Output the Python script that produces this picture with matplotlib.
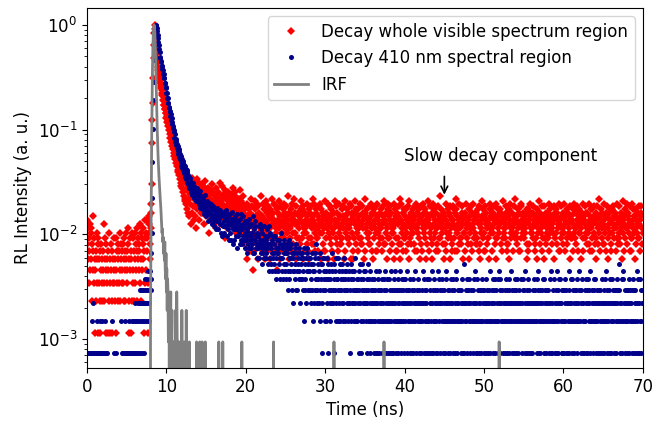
import numpy as np
import matplotlib
matplotlib.use('Agg')
import matplotlib.pyplot as plt

# channel width of the decay histograms (ns); strings hold counts per channel,
# one character per channel in base 62, groups of 10 channels = 0.5 ns
BIN = 0.05
DIGITS = '0123456789abcdefghijklmnopqrstuvwxyzABCDEFGHIJKLMNOPQRSTUVWXYZ'

# whole visible spectrum: 0 - 7.95 ns
red_pre = """
c7a5683b49 5a2746d385 4162593718 3516247352 64b3285471 5316429315 4726153843 2548163527
6349257364 3752846295 4637a25184 6152948362 5937462a58 4763b52984 7a5168c394 8c613bd957
"""
# whole visible spectrum: 8.00 - 12.95 ns (counts)
red_peak = [10, 14, 17, 26, 65, 108, 156, 270, 416, 555,
            720, 867, 800, 700, 610, 530, 470, 420, 380, 345,
            320, 300, 282, 266, 252, 240, 228, 216, 206, 196,
            186, 180, 166, 163, 150, 149, 136, 137, 124, 126,
            112, 117, 102, 108, 94, 100, 86, 93, 78, 86,
            72, 80, 66, 74, 61, 69, 57, 64, 52, 60,
            49, 56, 45, 53, 42, 50, 39, 47, 36, 45,
            34, 43, 32, 41, 29, 39, 27, 37, 25, 35,
            24, 33, 22, 31, 20, 30, 19, 28, 18, 27,
            17, 26, 15, 24, 14, 23, 19, 22, 13, 21]
# whole visible spectrum: 13.0 - 69.95 ns
red_tail = """
hpbkuemgsc jdqgnatfli gmcrhkeoiq ekhpbnfjsg ldigofk9mh fjcnhqelgb iegkaohmdj
cmfirdgkbp hbjelgc8nf dkgaiemcjh fchlbjdoge ibkfmd9hec gaejcnfbid c9hekbgdaf
7dh5ba9fc6 e8jb6cg49d a6f8idb7ch 5gc9ea7kb8 d9b6hf8ac5
b7ie9c6gd8 f5a8dbj7ec 8hc6bga9f4 ce7ia5db8g 9b6fdc8hae
6gbd9k7ca5 ea8c6fhb9d 7cj9be5gb8 b6ea8dc7if d8f5gb9ae6
a9c7hd6bf8 5ebg8ca7jd c7h9b6efa8 8da6gc9bh5 fb9c7ead6i
6ce8ba5hd9 b8gd7fc6ae 9a5eic8bg7 ec6b9hd7a8 7fb8dag5ci
d6a9cf8eb7 a8hb5gc9e6 5dc8bie7fa c9f6ad8hb7 8b7gcea5dj
e6ad9bf8c7 9cgb7hd6ea b5e8fac9g6 6hd9cb7ae8 fa8b6gdc7i
c7eb9a5fh8 8dg6cbe9a7 a9c5hfb8d6 e6b8dg7cj5 7ch9abe6f8
d8a6fc9bg7 b5id8ea7c9 9fb7cgd6ah 6ea9bc8fd5 gc7d6ahb9e
a8f5ecb7id c6bg9d8ae7 5hd8bfc9a6 ea7c6gb8dk 8bf9dac7e5
d7a6hcb9f8 b9e5gda8c6 7cgb8fe6aj f6d9abc7h8 a8c7eg5bd9
9ed6bha8c7 c5fb9dg7ae 6bha8ce9d7 e8c7fdb6g5 b7a9dic8f6
d9g6bec7a8 8cb5hfa9de a6e9cbg7d8 5hc8dafb9e fb7e6cd8ia
c9a8gbe6d7 7dfb5hc9a8 ea6c9bg8dj 9c8d7fae6b b6hg8cad9e
d8b9aec7f5 6fc7bhd9ae a9e8gcb6d7 8bd5fca9ei ce7a9bg6d8
5gbd8ec7a9 e8c6hbf9da b7a9dc5ge8 9dfe7bca6h c6b8gad9e7
a9hc6bed8f 7eb9dag5c8 dc8f6bh9ae 8a7ecgb6d9 fb9a5dce8h
6dcg8be9a7 e9b7ahc6df a6f8cbd9g7 c8e5bga7dj 9bd6fca8e7
b7hc9ade6g d5a8ebc9f6 7cf9bgd8ae ea6db8h7c9 8gc7eab5di
c9b6fd8aeh a7ed9cb6g8 6bh8acf9d5 dfa7c9be8g b8c6dge7a9
"""

# 410 nm region: 0 - 7.95 ns
blue_pre = """
1011010110 1102130101 0110210110 1021101201 1100120101 1000000000 0000200100 0010000000
0000020100 1101100211 0110120111 1012110201 2131202130 2314132413 3242153423 4352634265
"""
# 410 nm region: 8.00 - 12.95 ns (counts)
blue_peak = [5, 4, 9, 14, 30, 66, 135, 260, 380, 620,
             850, 1060, 1220, 1310, 1346, 1320, 1250, 1175, 1085, 1015,
             925, 868, 785, 738, 668, 650, 608, 595, 551, 540,
             505, 498, 462, 455, 421, 415, 378, 372, 340, 333,
             304, 300, 270, 268, 243, 240, 216, 219, 200, 204,
             183, 188, 168, 172, 152, 160, 141, 146, 128, 133,
             113, 121, 102, 110, 96, 104, 89, 98, 84, 93,
             79, 88, 74, 84, 70, 79, 66, 75, 61, 71,
             58, 68, 55, 64, 52, 62, 49, 60, 47, 57,
             45, 55, 43, 53, 41, 50, 39, 48, 37, 46]
# 410 nm region: 13.0 - 69.95 ns
blue_tail = """
EAHyFwCzGu AtCxzsByvA wqxtzorvpu rnusqlpwmr oksnqimrlp mjqlohnkpi kgnjmfliok
ifljnhkeml hdkgmiejgn gkdihlfcjh elhcjgmfbi gcjfkdhalf dieghbjfcl fbhdkcgeia
ci9fdhbjea gcdaheb9kc 9fcigadbe8 dagb8hc9fb a7ec9gb8da 9c8fa7db6g b8ea79c6d8
7b9d68a5c9 a69c7b58e8 6a8b57c96a 9579b4a68c 5a687b4963 869a57b469 4785a69358
7958462a74 58396a4768 6485739462 7369485b53 4758362947 5371846582
4625381574 6352749364 3517462835 5284637425 4736253846 2546374253 6314527364
3526438245 4253614732 5147325463 3624153742 2516342534 4231524631 1352416243
3425132514 2613425312 5234162431 3142536214 2435124362 4213542315
3250413624 2431523140 5123432613 3402531423 1324263051 4231342512 2503142361
3142523413 2416302534 1335241023 4213562314 2340213524 3152403216 5231342402
2413251337 1302423514 4325130242 2143522361 3521403124 2314252431 4023135423
1342621304 3251342152 2403125364 5132402213 3214352410 2351423632 4123041325
1432513204 3205231452 2413602134 5231423120 3142350243 2325143612 4132203425
1253421304 3420135216 2314252031 4213641235 3502314124 2143520413 1324163252
3512403124 2431252306 4023143512 3214025341 1352431620 2403215342 5231423104
3142302513 2413526231 4302143152 1253420314 3124352407 2431203516 5203142324
3142513402 2314052143 4213623150 1352412304
"""

# instrument response function: channels with non-zero counts
irf_time = [8.00, 8.05, 8.10, 8.15, 8.20, 8.25, 8.30, 8.35, 8.40, 8.45,
            8.50, 8.55, 8.60, 8.65, 8.70, 8.75, 8.80, 8.85, 8.90, 8.95,
            9.00, 9.05, 9.10, 9.15, 9.20, 9.25, 9.30, 9.35, 9.40, 9.45,
            9.50, 9.55, 9.60, 9.65, 9.70, 9.75, 9.80, 9.85, 9.90, 9.95,
            10.00, 10.05, 10.10, 10.15, 10.20, 10.25, 10.30, 10.35,
            10.45, 10.50, 10.55, 10.65, 10.70, 10.80, 10.95, 11.15, 11.30, 11.35,
            11.50, 11.70, 11.95, 12.25, 12.50, 12.90,
            13.80, 14.20, 14.50, 14.90, 16.60, 17.10, 19.50, 23.50, 31.10, 37.40, 51.90]
irf_counts = [2, 8, 30, 90, 220, 420, 650, 860, 1000, 1064,
              1020, 880, 680, 480, 330, 220, 150, 105, 78, 60,
              48, 40, 34, 29, 25, 22, 19, 16, 14, 11,
              12, 9, 10, 7, 8, 6, 9, 5, 4, 7,
              3, 5, 2, 4, 3, 1, 3, 2,
              2, 1, 3, 1, 2, 1, 1, 2, 3, 1,
              1, 1, 2, 1, 2, 1,
              1, 1, 1, 1, 1, 1, 1, 1, 1, 1, 1]

labels = ['Decay whole visible spectrum region', 'Decay 410 nm spectral region', 'IRF']


def decode(block, t0):
    times, counts = [], []
    for k, group in enumerate(block.split()):
        for j, ch in enumerate(group):
            times.append(t0 + 0.5 * k + BIN * j)
            counts.append(DIGITS.index(ch))
    return times, counts


def build(pre, peak, tail):
    t1, c1 = decode(pre, 0.0)
    t2 = [8.0 + BIN * i for i in range(len(peak))]
    t3, c3 = decode(tail, 13.0)
    t = np.array(t1 + t2 + t3)
    c = np.array(c1 + list(peak) + c3, dtype=float)
    y = c / c.max()
    y[c == 0] = np.nan
    return t, y


t_red, y_red = build(red_pre, red_peak, red_tail)
t_blue, y_blue = build(blue_pre, blue_peak, blue_tail)

t_irf = np.arange(1400) * BIN
c_irf = np.zeros_like(t_irf)
for t, c in zip(irf_time, irf_counts):
    c_irf[int(round(t / BIN))] = c
y_irf = c_irf / c_irf.max()

plt.rcParams['font.size'] = 12
fig = plt.figure(figsize=(6.69, 4.21), dpi=100)
ax = fig.add_axes([0.130, 0.126, 0.831, 0.855])

ax.plot(t_red, y_red, 'D', color='red', ms=3.6, mew=0, label=labels[0])
ax.plot(t_blue, y_blue, 'o', color='darkblue', ms=3.6, mew=0, label=labels[1])
ax.plot(t_irf, y_irf, '-', color='gray', lw=2, label=labels[2])

ax.set_yscale('log')
ax.set_xlim(0, 70)
ax.set_ylim(5.3e-4, 1.45)
ax.set_xticks(np.arange(0, 71, 10))
ax.set_xlabel('Time (ns)')
ax.set_ylabel('RL Intensity (a. u.)')

ax.text(52.1, 0.056, 'Slow decay component', ha='center', va='center')
ax.annotate('', xy=(45, 0.0225), xytext=(45, 0.038),
            arrowprops=dict(arrowstyle='->', color='black', lw=1.2))

ax.legend(loc='upper right')

fig.savefig('out.png', dpi=100)
